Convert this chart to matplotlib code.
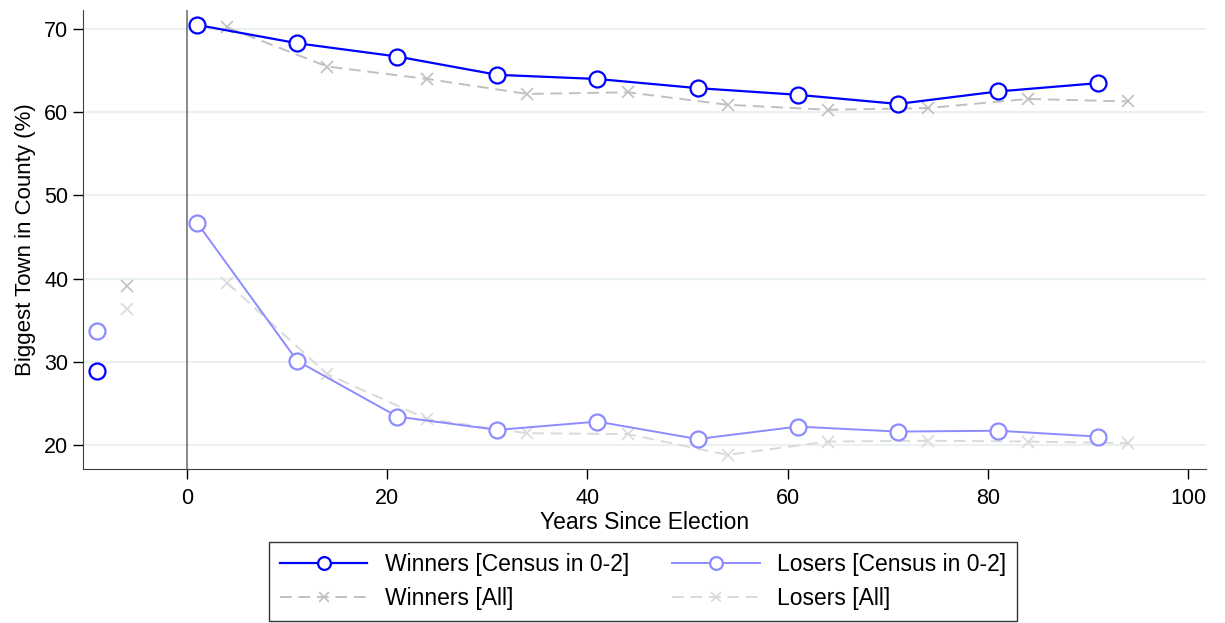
import matplotlib
matplotlib.use("Agg")
import matplotlib.pyplot as plt

plt.rcParams['font.family'] = ['Liberation Sans', 'DejaVu Sans']

# years since election
years_census = [1, 11, 21, 31, 41, 51, 61, 71, 81, 91]
years_all = [4, 14, 24, 34, 44, 54, 64, 74, 84, 94]
pre_census = -9
pre_all = -6

# biggest town share (%)
winners_census = [70.5, 68.3, 66.7, 64.5, 64.0, 62.9, 62.1, 61.0, 62.5, 63.5]
losers_census = [46.7, 30.1, 23.4, 21.8, 22.8, 20.7, 22.2, 21.6, 21.7, 21.0]
winners_all = [70.2, 65.5, 64.0, 62.2, 62.4, 60.9, 60.3, 60.5, 61.6, 61.3]
losers_all = [39.5, 28.5, 23.1, 21.4, 21.3, 18.8, 20.4, 20.5, 20.4, 20.2]

winners_census_pre = 28.9
losers_census_pre = 33.7
winners_all_pre = 39.1
losers_all_pre = 36.4

blue = '#0000ff'
lblue = '#8c8cff'
gray = '#c0c0c0'
lgray = '#dadada'

fig = plt.figure(figsize=(12.25, 6.23), dpi=100)
ax = fig.add_axes([0.0678, 0.2472, 0.9167, 0.7368])

circ = dict(marker='o', markersize=11.5, markerfacecolor='white', markeredgewidth=1.6)
cross = dict(marker='x', markersize=9, markeredgewidth=1.2)

ax.axvline(0, color='#808080', lw=1.3, zorder=1)

l3, = ax.plot(years_all, winners_all, ls='--', color=gray, lw=1.4, dashes=(6, 3.5), zorder=2,
              label='Winners [All]', **cross)
l4, = ax.plot(years_all, losers_all, ls='--', color=lgray, lw=1.4, dashes=(6, 3.5), zorder=2,
              label='Losers [All]', **cross)
l1, = ax.plot(years_census, winners_census, color=blue, lw=1.6, zorder=4,
              label='Winners [Census in 0-2]', markeredgecolor=blue, **circ)
l2, = ax.plot(years_census, losers_census, color=lblue, lw=1.4, zorder=3,
              label='Losers [Census in 0-2]', markeredgecolor=lblue, **circ)

# pre-election points, markers only
ax.plot([pre_all], [winners_all_pre], ls='none', color=gray, **cross)
ax.plot([pre_all], [losers_all_pre], ls='none', color=lgray, **cross)
ax.plot([pre_census], [winners_census_pre], ls='none', color=blue, markeredgecolor=blue, **circ)
ax.plot([pre_census], [losers_census_pre], ls='none', color=lblue, markeredgecolor=lblue, **circ)

ax.set_xlim(-10.4, 101.8)
ax.set_ylim(17.1, 72.3)
ax.set_xticks(range(0, 101, 20))
ax.set_yticks(range(20, 71, 10))
ax.tick_params(labelsize=15.5, length=7, width=1, color='black')
ax.tick_params(axis='x', pad=7)
ax.grid(axis='y', color='#eaf1f3', lw=1.5)
ax.set_axisbelow(True)
for s in ['top', 'right']:
    ax.spines[s].set_visible(False)
ax.spines['left'].set_color('#404040')
ax.spines['bottom'].set_color('#404040')

ax.set_xlabel('Years Since Election', fontsize=16.5, labelpad=1)
ax.set_ylabel('Biggest Town in County (%)', fontsize=16, labelpad=6)

leg = fig.legend(handles=[l1, l3, l2, l4], loc='lower center', bbox_to_anchor=(0.525, 0.003),
                 ncol=2, fontsize=16.5, frameon=True, fancybox=False, handlelength=3.8,
                 handletextpad=0.75, columnspacing=1.9, borderpad=0.5, labelspacing=0.45,
                 markerscale=0.8, borderaxespad=0)
leg.get_frame().set_edgecolor('black')
leg.get_frame().set_linewidth(1.0)

fig.savefig('out.png', dpi=100)
